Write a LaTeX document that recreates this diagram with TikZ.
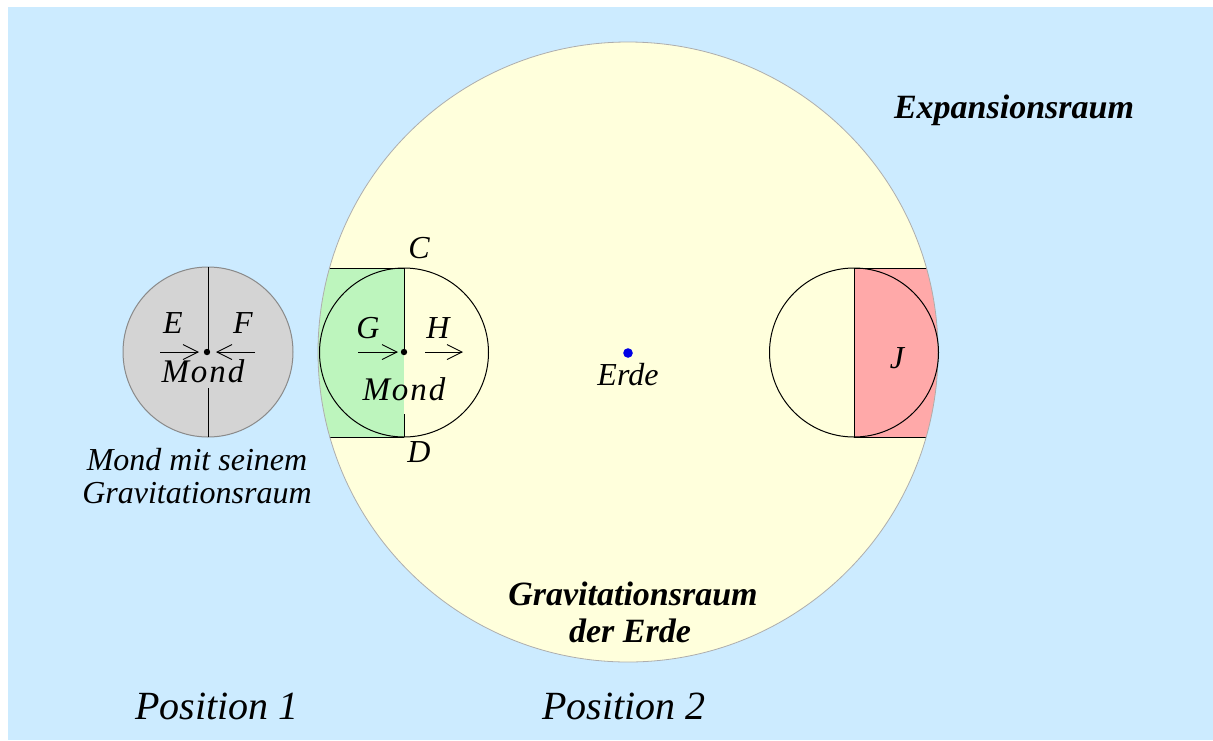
\documentclass[tikz,border=0pt]{standalone}
\usepackage{fontspec}
\setmainfont{Liberation Serif}
\usetikzlibrary{arrows.meta}
\definecolor{bgblue}{HTML}{CCEBFF}
\definecolor{earthyellow}{HTML}{FFFFDC}
\definecolor{mgreen}{HTML}{BDF5BD}
\definecolor{mred}{HTML}{FFA9A9}
\definecolor{moongray}{HTML}{D4D4D4}
\definecolor{moonrim}{HTML}{8A8A8A}
\definecolor{dotblue}{HTML}{0000E6}
\begin{document}
\begin{tikzpicture}[x=1pt,y=-1pt,
  lbl/.style={font=\fontsize{32}{36}\selectfont\itshape, inner sep=0pt, anchor=base},
  mondlbl/.style={font=\fontsize{33}{36}\selectfont\itshape\addfontfeature{LetterSpace=6}, inner sep=0pt, anchor=base},
  blbl/.style={font=\fontsize{34}{38}\selectfont\bfseries\itshape, inner sep=0pt, anchor=base},
  poslbl/.style={font=\fontsize{40}{44}\selectfont\itshape, inner sep=0pt, anchor=base},
  arr/.style={-{Straight Barb[length=15pt,width=15pt]}, line width=0.9pt},
  thinline/.style={line width=1pt, black}]
\useasboundingbox (0,0) rectangle (1213,740);
\fill[white] (0,0) rectangle (1213,740);
\fill[bgblue] (8,7) rectangle (1213,740);

% Earth gravitational space
\fill[earthyellow] (628,352) circle[radius=310pt];
\begin{scope}
  \clip (628,352) circle[radius=310pt];
  \fill[mgreen] (300,268) rectangle (404,437);
  \fill[mred] (854,268) rectangle (960,437);
  \draw[thinline] (300,268) -- (404,268);
  \draw[thinline] (300,437) -- (404,437);
  \draw[thinline] (854,268) -- (960,268);
  \draw[thinline] (854,437) -- (960,437);
\end{scope}
\draw[line width=0.8pt, moonrim!70] (628,352) circle[radius=310pt];

% Moon in position 2 (left)
\draw[thinline] (404,352.5) circle[radius=84.5pt];
\draw[thinline] (404,268) -- (404,352);
\draw[thinline] (404,414) -- (404,437);
\fill (404,352) circle[radius=3.2pt];
\coordinate (g1) at (358,352);
\coordinate (g2) at (398,352);
\coordinate (h1) at (425,352);
\coordinate (h2) at (463,352);
\draw[arr] (g1) -- (g2);
\draw[arr] (h1) -- (h2);
\node[lbl] (G) at (368,338) {G};
\node[lbl] (H) at (438,338) {H};
\node[mondlbl] (mond2) at (404,400) {Mond};
\node[lbl] (C) at (419,258) {C};
\node[lbl] (D) at (419,462) {D};

% Moon on the right side
\draw[thinline] (854,352.5) circle[radius=84.5pt];
\draw[thinline] (854,268) -- (854,437);
\node[lbl] (J) at (897,368) {J};

% Earth
\fill[dotblue] (628,353) circle[radius=4.8pt];
\node[lbl] (erde) at (628,385) {Erde};

% Moon position 1
\draw[line width=1pt, fill=moongray, draw=moonrim] (208,352) circle[radius=85pt];
\draw[thinline] (208,267) -- (208,352);
\draw[thinline] (208,388) -- (208,437);
\fill (207,352) circle[radius=3.2pt];
\coordinate (e1) at (160,352);
\coordinate (e2) at (199,352);
\coordinate (f1) at (255,352);
\coordinate (f2) at (216,352);
\draw[arr] (e1) -- (e2);
\draw[arr] (f1) -- (f2);
\node[lbl] (E) at (173,333) {E};
\node[lbl] (F) at (243,333) {F};
\node[mondlbl] (mond1) at (203,382) {Mond};

% Texts
\node[lbl] (mondmit1) at (197,470) {Mond mit seinem};
\node[lbl] (mondmit2) at (197,503) {Gravitationsraum};
\node[blbl] (grav1) at (633,605) {Gravitationsraum};
\node[blbl] (grav2) at (630,642) {der Erde};
\node[blbl] (exp) at (1014,118) {Expansionsraum};
\node[poslbl] (pos1) at (217,719) {Position 1};
\node[poslbl] (pos2) at (624,719) {Position 2};
\end{tikzpicture}
\end{document}
